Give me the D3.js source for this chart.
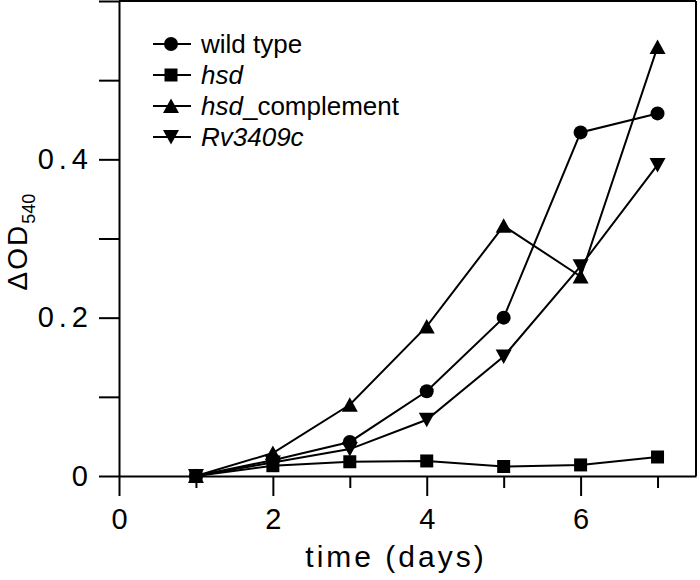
<!DOCTYPE html>
<html>
<head>
<meta charset="utf-8">
<script src="https://cdn.jsdelivr.net/npm/d3@7"></script>
<style>
  html, body { margin: 0; padding: 0; background: #fff; }
  svg { display: block; }
  text { font-family: "Liberation Sans", Arial, sans-serif; fill: #000; }
</style>
</head>
<body>
<svg id="chart" width="700" height="580"></svg>
<script>
// ---- data ----
const days = [1, 2, 3, 4, 5, 6, 7];
const wildType      = [0.000, 0.020, 0.043, 0.107, 0.200, 0.434, 0.458];
const hsd           = [0.000, 0.013, 0.018, 0.019, 0.012, 0.014, 0.024];
const hsdComplement = [0.000, 0.029, 0.090, 0.189, 0.316, 0.252, 0.542];
const rv3409c       = [0.000, 0.017, 0.034, 0.071, 0.151, 0.265, 0.393];

const xMajorTicks = [0, 2, 4, 6];
const xMinorTicks = [1, 3, 5, 7];
const yMajorTicks = [0, 0.2, 0.4];
const yMinorTicks = [0.1, 0.3, 0.5, 0.6];
const yTickLabels = ["0", "0.2", "0.4"];

const seriesNames = ["wild type", "hsd", "hsd_complement", "Rv3409c"];
const seriesShapes = ["circle", "square", "triUp", "triDown"];
const seriesValues = [wildType, hsd, hsdComplement, rv3409c];

// ---- layout ----
const svg = d3.select("#chart");
const L = 119, R = 696, T = 1, B = 476;
const x = d3.scaleLinear().domain([0, 7.5]).range([L, R]);
const y = d3.scaleLinear().domain([0, 0.6]).range([B, T]);

function shapePath(s) {
  if (s === "circle") return d3.symbol(d3.symbolCircle, Math.PI * 7 * 7)();
  if (s === "square") return "M-6.5,-6.5H6.5V6.5H-6.5Z";
  if (s === "triUp") return "M0,-7.5L8,7L-8,7Z";
  return "M0,7.5L8,-7L-8,-7Z";
}

// frame (top and right)
svg.append("line").attr("x1", L).attr("x2", R).attr("y1", T).attr("y2", T)
  .attr("stroke", "#000").attr("stroke-width", 2);
svg.append("line").attr("x1", R).attr("x2", R).attr("y1", T).attr("y2", B)
  .attr("stroke", "#000").attr("stroke-width", 2);

// x axis
const gxMaj = svg.append("g").attr("transform", `translate(0,${B})`)
  .call(d3.axisBottom(x).tickValues(xMajorTicks).tickSize(20).tickSizeOuter(0).tickPadding(12).tickFormat(d3.format("d")));
const gxMin = svg.append("g").attr("transform", `translate(0,${B})`)
  .call(d3.axisBottom(x).tickValues(xMinorTicks).tickSize(12).tickSizeOuter(0).tickFormat(""));
gxMin.select(".domain").remove();

// y axis
const gyMaj = svg.append("g").attr("transform", `translate(${L},0)`)
  .call(d3.axisLeft(y).tickValues(yMajorTicks).tickSize(20).tickSizeOuter(0).tickPadding(6)
    .tickFormat((d, i) => yTickLabels[i]));
const gyMin = svg.append("g").attr("transform", `translate(${L},0)`)
  .call(d3.axisLeft(y).tickValues(yMinorTicks).tickSize(20).tickSizeOuter(0).tickFormat(""));
gyMin.select(".domain").remove();

svg.selectAll(".domain, .tick line").attr("stroke", "#000").attr("stroke-width", 2);
svg.selectAll(".tick text")
  .style("font-family", '"Liberation Sans", Arial, sans-serif')
  .style("font-size", "29px").attr("fill", "#000");
gyMaj.selectAll(".tick text").style("letter-spacing", "5px");

// axis titles
svg.append("text").attr("x", 396).attr("y", 567).attr("text-anchor", "middle")
  .style("font-size", "30px").style("letter-spacing", "3px").text("time (days)");

const yt = svg.append("text").attr("transform", "translate(27,242) rotate(-90)")
  .attr("text-anchor", "middle").style("font-size", "28px").style("letter-spacing", "2px");
yt.append("tspan").text("ΔOD");
yt.append("tspan").attr("dy", 8).style("font-size", "18px").style("letter-spacing", "0px").text("540");

// series lines and markers
const line = d3.line().x((d, i) => x(days[i])).y(d => y(d));
seriesValues.forEach((vals, k) => {
  svg.append("path").datum(vals).attr("d", line)
    .attr("fill", "none").attr("stroke", "#000").attr("stroke-width", 2);
});
seriesValues.forEach((vals, k) => {
  svg.append("g").selectAll("path").data(vals).join("path")
    .attr("transform", (d, i) => `translate(${x(days[i])},${y(d)})`)
    .attr("d", shapePath(seriesShapes[k])).attr("fill", "#000");
});

// legend
const legY = [44, 75, 106, 137];
seriesNames.forEach((name, k) => {
  const g = svg.append("g").attr("transform", `translate(0,${legY[k]})`);
  g.append("line").attr("x1", 153).attr("x2", 191).attr("y1", 0).attr("y2", 0)
    .attr("stroke", "#000").attr("stroke-width", 2);
  g.append("path").attr("transform", "translate(171,0)").attr("d", shapePath(seriesShapes[k])).attr("fill", "#000");
  const t = g.append("text").attr("x", 201).attr("y", 9).style("font-size", "26px");
  if (name === "wild type") t.text(name);
  else if (name === "hsd_complement") {
    t.append("tspan").style("font-style", "italic").text("hsd");
    t.append("tspan").text("_complement");
  } else t.style("font-style", "italic").text(name);
});
</script>
</body>
</html>
